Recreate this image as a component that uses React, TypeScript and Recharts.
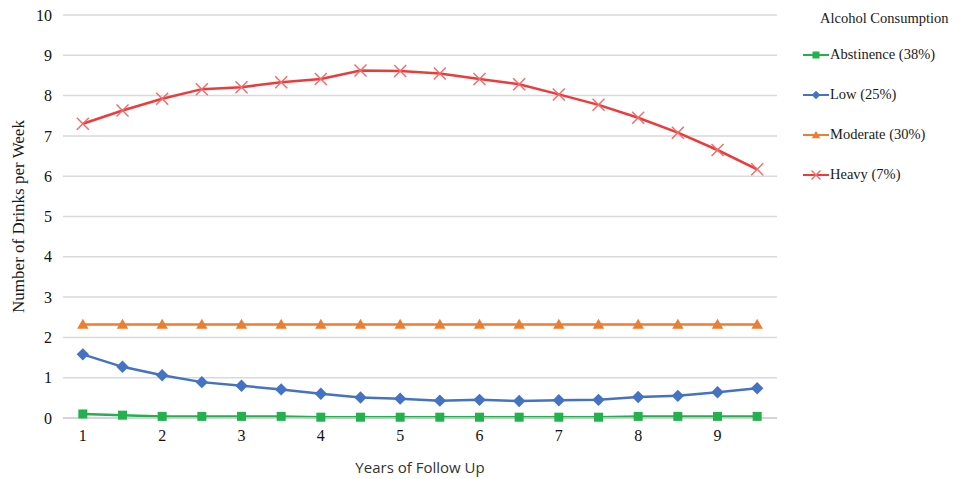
import { LineChart, Line, XAxis, YAxis, CartesianGrid } from 'recharts';

const years = [1, 1.5, 2, 2.5, 3, 3.5, 4, 4.5, 5, 5.5, 6, 6.5, 7, 7.5, 8, 8.5, 9, 9.5];
const abstinence = [0.1, 0.07, 0.04, 0.04, 0.04, 0.04, 0.02, 0.02, 0.02, 0.02, 0.02, 0.02, 0.02, 0.02, 0.04, 0.04, 0.04, 0.04];
const low = [1.58, 1.27, 1.06, 0.89, 0.8, 0.71, 0.6, 0.51, 0.48, 0.43, 0.45, 0.42, 0.44, 0.45, 0.52, 0.55, 0.64, 0.74];
const moderate = [2.32, 2.32, 2.32, 2.32, 2.32, 2.32, 2.32, 2.32, 2.32, 2.32, 2.32, 2.32, 2.32, 2.32, 2.32, 2.32, 2.32, 2.32];
const heavy = [7.3, 7.63, 7.92, 8.16, 8.21, 8.33, 8.41, 8.62, 8.61, 8.55, 8.41, 8.28, 8.03, 7.77, 7.45, 7.08, 6.65, 6.17];

const xTicks = [1, 2, 3, 4, 5, 6, 7, 8, 9];
const minorTicks = [0.75, 1.25, 1.75, 2.25, 2.75, 3.25, 3.75, 4.25, 4.75, 5.25, 5.75, 6.25, 6.75, 7.25, 7.75, 8.25, 8.75, 9.25, 9.75];
const yTicks = [0, 1, 2, 3, 4, 5, 6, 7, 8, 9, 10];

const data = years.map((year, i) => ({
  year,
  abstinence: abstinence[i],
  low: low[i],
  moderate: moderate[i],
  heavy: heavy[i],
}));

type Shape = 'square' | 'diamond' | 'triangle' | 'cross';

const series: { key: string; name: string; color: string; shape: Shape; size: number }[] = [
  { key: 'abstinence', name: 'Abstinence (38%)', color: '#22b14c', shape: 'square', size: 9 },
  { key: 'low', name: 'Low (25%)', color: '#4472c4', shape: 'diamond', size: 10 },
  { key: 'moderate', name: 'Moderate (30%)', color: '#ed7d31', shape: 'triangle', size: 9.5 },
  { key: 'heavy', name: 'Heavy (7%)', color: '#f03a3a', shape: 'cross', size: 12 },
];

function marker(shape: Shape, color: string, cx: number, cy: number, s: number, key?: string) {
  if (shape === 'square') {
    return <rect key={key} x={cx - s / 2} y={cy - s / 2} width={s} height={s} fill={color} />;
  }
  if (shape === 'diamond') {
    const r = s * 0.62;
    return <polygon key={key} points={`${cx},${cy - r} ${cx + r},${cy} ${cx},${cy + r} ${cx - r},${cy}`} fill={color} />;
  }
  if (shape === 'triangle') {
    const r = s * 0.6;
    return <polygon key={key} points={`${cx},${cy - r} ${cx + r},${cy + r * 0.75} ${cx - r},${cy + r * 0.75}`} fill={color} />;
  }
  const r = s / 2;
  return (
    <g key={key} stroke="#f26a6a" strokeWidth={1.4}>
      <line x1={cx - r} y1={cy - r} x2={cx + r} y2={cy + r} />
      <line x1={cx - r} y1={cy + r} x2={cx + r} y2={cy - r} />
    </g>
  );
}

const dotFor = (shape: Shape, color: string, size: number) => (props: any) => {
  const { cx, cy, index } = props;
  if (cx == null || cy == null) return <g key={`d-${index}`} />;
  return marker(shape, color, cx, cy, size, `d-${shape}-${index}`);
};

// legend drawn as an overlay so it does not eat into the plot width
function LegendBox() {
  return (
    <div style={{ position: 'absolute', left: 795, top: 0, width: 184, height: 220, fontFamily: '"Liberation Serif", serif', fontSize: 14.5, color: '#1a1a1a' }}>
      <div style={{ position: 'absolute', left: 25, top: 10, whiteSpace: 'nowrap' }}>Alcohol Consumption</div>
      {series.map((s, i) => (
        <div key={s.key} style={{ position: 'absolute', left: 8, top: 46 + i * 40, display: 'flex', alignItems: 'center', whiteSpace: 'nowrap' }}>
          <svg width={26} height={14}>
            <line x1={0} y1={7} x2={26} y2={7} stroke={s.color} strokeWidth={2} />
            {marker(s.shape, s.color, 13, 7, s.shape === 'cross' ? 9 : 7)}
          </svg>
          <span style={{ marginLeft: 1 }}>{s.name}</span>
        </div>
      ))}
    </div>
  );
}

export default function App() {
  return (
    <div style={{ position: 'absolute', left: 0, top: 0, width: 979, height: 479, background: '#fff' }}>
      <LineChart width={979} height={479} data={data} margin={{ top: 15, right: 202, bottom: 0, left: 0 }}>
        <CartesianGrid horizontal vertical={false} stroke="#d9d9d9" strokeWidth={1.5} />
        <XAxis
          xAxisId="minor"
          dataKey="year"
          type="number"
          domain={[0.75, 9.75]}
          ticks={minorTicks}
          interval={0}
          height={0}
          axisLine={false}
          tick={false}
          tickSize={4}
          tickLine={{ stroke: '#d0d0d0' }}
        />
        <XAxis
          dataKey="year"
          type="number"
          domain={[0.75, 9.75]}
          ticks={xTicks}
          interval={0}
          height={61}
          axisLine={{ stroke: '#d0d0d0', strokeWidth: 1.5 }}
          tickLine={false}
          tickSize={0}
          tickMargin={12}
          tick={{ fontFamily: '"Liberation Serif", serif', fontSize: 16, fill: '#111' }}
          label={{
            value: 'Years of Follow Up',
            position: 'insideBottom',
            offset: 6,
            style: { fontFamily: '"Open Sans", sans-serif', fontSize: 15, fill: '#333' },
          }}
        />
        <YAxis
          type="number"
          domain={[0, 10]}
          ticks={yTicks}
          interval={0}
          width={63}
          axisLine={false}
          tickLine={false}
          tickSize={0}
          tickMargin={11}
          tick={{ fontFamily: '"Liberation Serif", serif', fontSize: 16, fill: '#111' }}
          label={{
            content: (props: any) => {
              const vb = props.viewBox || {};
              const cy = (vb.y ?? 15) + (vb.height ?? 403) / 2;
              return (
                <text
                  x={20}
                  y={cy}
                  transform={`rotate(-90, 20, ${cy})`}
                  textAnchor="middle"
                  dominantBaseline="middle"
                  style={{ fontFamily: '"Liberation Serif", serif', fontSize: 17, fill: '#1a1a1a' }}
                >
                  Number of Drinks per Week
                </text>
              );
            },
          }}
        />
        {series.map((s) => (
          <Line
            key={s.key}
            dataKey={s.key}
            name={s.name}
            stroke={s.color}
            strokeWidth={2.5}
            dot={dotFor(s.shape, s.color, s.size)}
            activeDot={false}
            isAnimationActive={false}
            type="linear"
          />
        ))}
      </LineChart>
      <LegendBox />
    </div>
  );
}
